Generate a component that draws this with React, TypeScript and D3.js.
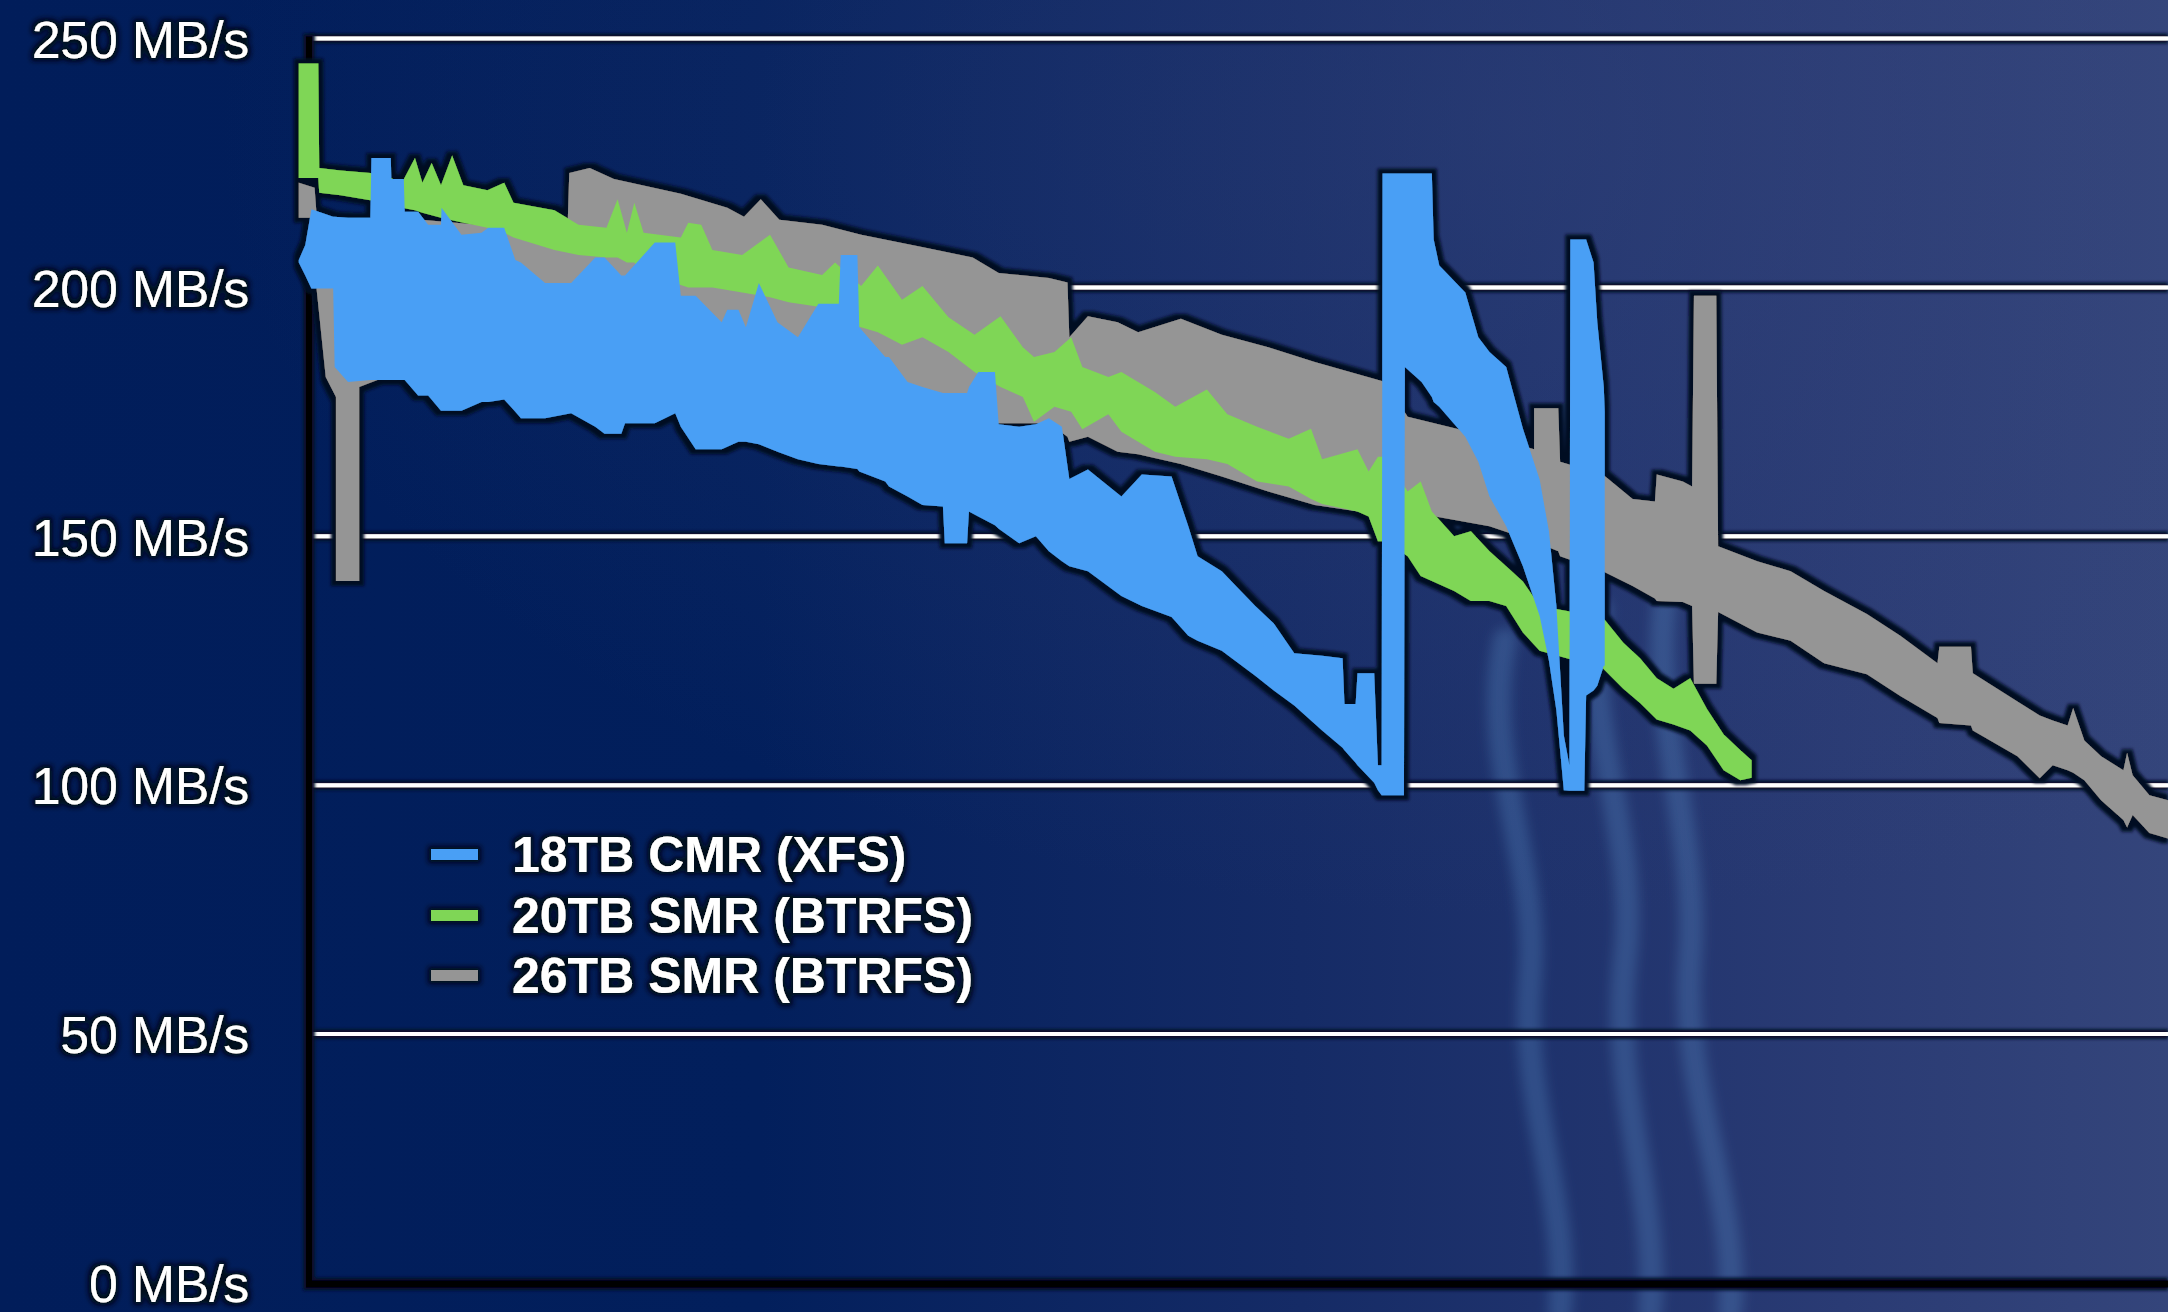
import React from 'react';
import * as d3 from 'd3';

const W = 2168;
const H = 1312;

const yTicks = [0, 50, 100, 150, 200, 250];
const tickLabel = (v: number) => `${v} MB/s`;

const seriesNames = ['18TB CMR (XFS)', '20TB SMR (BTRFS)', '26TB SMR (BTRFS)'];
const seriesColors = ['#4a9ff5', '#7fd656', '#959595'];

// x = position along the run (percent of the visible timeline)
const greyT = [-0.55, 0.3, 0.4, 0.9, 1.45, 1.45, 2.7, 2.7, 4.8, 11.0, 11.1, 13.9, 14.0, 15.1, 16.4, 20.0, 22.5, 23.4, 24.3, 25.3, 27.6, 29.7, 33.1, 35.7, 37.1, 39.8, 40.8, 40.9, 41.9, 43.5, 44.6, 46.9, 49.1, 51.6, 54.1, 57.9, 59.1, 63.5, 65.9, 65.9, 67.2, 67.3, 69.6, 71.2, 72.4, 72.5, 73.9, 74.4, 74.5, 75.7, 75.8, 77.9, 79.7, 81.5, 83.8, 85.6, 87.6, 87.7, 89.4, 89.5, 91.9, 93.1, 93.8, 94.6, 94.9, 95.5, 96.4, 97.6, 97.8, 98.1, 99.0, 100];
const greyHi = [221, 220, 215, 214, 213, 213, 213, 213, 214, 212, 211, 211, 223, 224, 221.8, 218.8, 216, 214.2, 217.7, 213.6, 212.6, 210.6, 208, 206, 202.9, 201.9, 201, 190, 194.2, 193, 191, 193.7, 190.5, 188, 185, 181, 174, 170, 167.5, 175.7, 175.7, 165, 162.4, 157.5, 157, 162.4, 161, 160, 198.3, 198.3, 148, 145, 143, 139, 134.4, 130, 124.5, 127.8, 127.8, 122.5, 116.8, 114, 113, 112, 115.5, 109, 105.8, 103, 106.5, 102, 98, 97];
const greyLo = [214, 214, 200, 182, 178, 141, 141, 180, 183, 197, 198, 199, 199, 199, 199, 196, 190, 188, 187, 186, 184, 182, 178, 175, 172.7, 172.7, 170, 169, 170, 167, 166.5, 164.5, 162, 159, 156.3, 154.2, 155, 152, 149, 149, 147, 146, 143, 140, 137.5, 137, 136.8, 136, 120.4, 120.4, 134.8, 130.7, 129, 124.5, 122.3, 117.9, 113.5, 112.5, 112, 111, 105.8, 101.4, 104, 103, 102.5, 101, 97, 93, 91.5, 94, 90.4, 89.3];

const greenT = [-0.55, 0.5, 0.55, 1.7, 3.3, 4.4, 5.0, 5.7, 6.1, 6.6, 7.1, 7.7, 8.3, 9.6, 10.5, 11.0, 13.2, 14.5, 16.0, 16.6, 17.1, 17.5, 18.0, 20.0, 20.4, 21.1, 21.7, 23.3, 24.8, 25.8, 27.6, 28.3, 29.7, 30.6, 31.9, 33.0, 34.4, 35.8, 37.2, 38.4, 39.0, 40.1, 41.0, 41.6, 43.0, 43.7, 45.5, 46.6, 48.3, 49.4, 51.0, 52.7, 53.9, 54.5, 56.4, 57.0, 57.5, 57.9, 59.1, 59.8, 60.4, 61.6, 62.5, 63.5, 64.4, 65.3, 66.2, 69.6, 70.7, 71.6, 72.5, 73.4, 74.3, 75.2, 76.1, 77.0, 77.6];
const greenHi = [245, 245, 224, 223.5, 223, 222, 221, 226, 221, 225, 220.5, 226.5, 220.5, 219.5, 221, 217, 215.5, 212.6, 212, 217.7, 211, 217, 211, 210, 213, 212.6, 207.5, 206.5, 210.6, 204, 202.5, 205, 200.3, 204.4, 197.5, 200.3, 194, 190.5, 194.2, 188, 186, 187, 190, 184, 182, 183, 179, 176, 179.5, 174.5, 172, 169.6, 171.6, 165.5, 167.5, 163, 166, 166, 159, 161, 155, 150, 151, 147, 144, 140.9, 136, 133.7, 128.6, 125.5, 121.5, 119.4, 121.5, 115.3, 110.2, 107, 105];
const greenLo = [222, 222, 219, 218.5, 217.5, 216, 216, 215.5, 215, 214.5, 214, 213.5, 213, 212, 211, 210, 207.5, 206.5, 206, 206, 205, 205, 203, 200.5, 200, 200, 200, 199, 198, 197, 196, 193, 192, 191, 188.5, 190, 187, 183, 180, 178, 173, 176, 175, 171.5, 174.5, 171, 167, 166, 165.5, 164.5, 161, 160, 157.5, 156.5, 155, 154, 149, 149, 146, 142, 141, 139, 137, 137, 136, 130.7, 127, 123.5, 119.4, 116.5, 113.2, 112.2, 111, 108, 103, 101, 101.5];

const blueT = [-0.55, -0.2, 0.13, 1.3, 1.38, 2.1, 3.3, 3.36, 4.4, 4.43, 5.1, 5.15, 5.87, 6.41, 7.1, 7.13, 8.2, 9.28, 9.64, 10.5, 11.1, 11.4, 12.7, 14.1, 15.4, 15.9, 16.8, 17.0, 18.6, 19.7, 20.0, 20.8, 22.2, 22.5, 23.1, 23.5, 24.2, 25.2, 26.3, 27.4, 28.5, 28.6, 29.5, 29.6, 31.0, 31.2, 32.2, 33.0, 34.1, 34.2, 35.4, 35.5, 36.0, 36.9, 37.1, 38.2, 39.1, 39.8, 40.5, 40.9, 41.9, 43.7, 44.8, 46.4, 47.3, 47.8, 49.1, 50.9, 51.9, 53.0, 54.5, 55.6, 55.7, 56.3, 56.4, 57.3, 57.5, 57.7, 57.75, 58.9, 58.95, 59.85, 60.4, 60.5, 60.8, 62.2, 62.9, 63.5, 64.4, 65.3, 66.2, 66.7, 67.1, 67.5, 67.8, 67.85, 68.6, 68.7, 69.1, 69.3, 69.65, 69.7];
const blueHi = [205.5, 208.5, 215.7, 214.2, 214.2, 214, 214, 226, 226, 221.8, 221.8, 215.2, 215.2, 212.6, 212.6, 216, 210.6, 211, 212, 212, 205.5, 205, 200.9, 200.9, 206, 206, 202.4, 202.4, 209, 209, 198.3, 198.3, 193, 195.5, 195.5, 192, 200.9, 193, 190, 196.7, 196.7, 206.5, 206.5, 192, 186, 186, 181, 180, 178.8, 178.8, 178.8, 180, 183, 183, 172.5, 172, 172.5, 173.7, 172, 161.5, 163.4, 158, 162.4, 162, 152, 146, 143, 136, 132.5, 126.5, 126, 125.5, 116.3, 116.3, 122.5, 122.5, 104, 104, 222.9, 222.9, 222.9, 222.9, 222.9, 209.6, 204.4, 199, 190, 187, 184, 171.6, 161.4, 151, 136, 110, 104, 209.6, 209.6, 209.6, 205, 193, 180, 175];
const blueLo = [205, 202.4, 199.8, 199.8, 184, 181, 181.4, 181.4, 181.4, 181.4, 181.4, 181.4, 178.3, 178.3, 175.2, 175.2, 175.2, 177, 177, 177.5, 175, 173.7, 173.7, 174.7, 172, 170.6, 170.6, 172.7, 172.7, 174.7, 172, 167.5, 167.5, 168, 169, 169, 168.5, 167, 165.5, 164.5, 164, 164, 163.5, 163, 161, 160, 158, 156.3, 156, 148.6, 148.6, 155, 154, 152.2, 151.5, 148.6, 150, 147, 145, 144, 143, 138, 136, 133.8, 130, 129, 127, 122, 119, 116, 111, 107.5, 107, 104.5, 104, 100.5, 99, 98, 98, 98, 184, 181, 178, 177, 176, 170, 165, 158, 152, 144, 134, 125, 115, 99, 98.9, 98.9, 98.9, 118, 119, 120, 124, 124];

const seriesData = [
  { t: greyT, hi: greyHi, lo: greyLo, idx: 2 },
  { t: greenT, hi: greenHi, lo: greenLo, idx: 1 },
  { t: blueT, hi: blueHi, lo: blueLo, idx: 0 },
];

const FONT = '"Liberation Sans", Arial, Helvetica, sans-serif';

export default function App() {
  const x = d3.scaleLinear().domain([0, 100]).range([309, 2168]);
  const y = d3.scaleLinear().domain([0, 250]).range([1283, 38.5]);

  const areas = seriesData.map((s) => {
    const gen = d3
      .area<number>()
      .x((i) => x(s.t[i]))
      .y0((i) => y(s.lo[i]))
      .y1((i) => y(s.hi[i]))
      .curve(d3.curveLinear);
    return { d: gen(d3.range(s.t.length)) || '', color: seriesColors[s.idx] };
  });

  const legendY = [854.5, 915.5, 975.5];

  return (
    <div style={{ position: 'fixed', left: 0, top: 0, width: W, height: H, overflow: 'hidden' }}>
      <svg width={W} height={H} style={{ display: 'block' }}>
        <defs>
          <linearGradient id="bg" x1="0" y1="0" x2="1" y2="0">
            <stop offset="0" stopColor="#011d5a" />
            <stop offset="0.35" stopColor="#021f5c" />
            <stop offset="0.6" stopColor="#152b66" />
            <stop offset="0.85" stopColor="#2a3b74" />
            <stop offset="1" stopColor="#34457b" />
          </linearGradient>
          <radialGradient id="bgglow" cx="0.7" cy="0.1" r="0.6">
            <stop offset="0" stopColor="#3a4a80" stopOpacity="0.35" />
            <stop offset="1" stopColor="#3a4a80" stopOpacity="0" />
          </radialGradient>
          <filter id="outline" filterUnits="userSpaceOnUse" x="0" y="0" width={W} height={H}>
            <feMorphology in="SourceAlpha" operator="dilate" radius="5" result="d" />
            <feGaussianBlur in="d" stdDeviation="1.8" result="b" />
            <feFlood floodColor="#060e24" result="f" />
            <feComposite in="f" in2="b" operator="in" result="s" />
            <feMerge>
              <feMergeNode in="s" />
              <feMergeNode in="SourceGraphic" />
            </feMerge>
          </filter>
          <filter id="lineOutline" filterUnits="userSpaceOnUse" x="0" y="0" width={W} height={H}>
            <feMorphology in="SourceAlpha" operator="dilate" radius="3" result="d" />
            <feGaussianBlur in="d" stdDeviation="1.5" result="b" />
            <feFlood floodColor="#08112a" result="f" />
            <feComposite in="f" in2="b" operator="in" result="s" />
            <feMerge>
              <feMergeNode in="s" />
              <feMergeNode in="SourceGraphic" />
            </feMerge>
          </filter>
          <filter id="textGlow" filterUnits="userSpaceOnUse" x="0" y="0" width={W} height={H}>
            <feMorphology in="SourceAlpha" operator="dilate" radius="3" result="d" />
            <feGaussianBlur in="d" stdDeviation="2.5" result="b" />
            <feFlood floodColor="#040a1a" result="f" />
            <feComposite in="f" in2="b" operator="in" result="s" />
            <feMerge>
              <feMergeNode in="s" />
              <feMergeNode in="SourceGraphic" />
            </feMerge>
          </filter>
          <filter id="soft" x="-50%" y="-50%" width="200%" height="200%">
            <feGaussianBlur stdDeviation="6" />
          </filter>
        </defs>

        <rect x={0} y={0} width={W} height={H} fill="url(#bg)" />
        <rect x={0} y={0} width={W} height={H} fill="url(#bgglow)" />

        {/* faint decorative strands in the background */}
        <g filter="url(#soft)" fill="none" stroke="#6aa8e0" strokeOpacity="0.24" strokeWidth="24" strokeLinecap="round">
          <path d="M1505,640 C1480,760 1540,860 1530,980 C1520,1100 1570,1200 1560,1312" />
          <path d="M1600,610 C1580,720 1640,840 1625,960 C1610,1090 1660,1200 1650,1312" />
          <path d="M1665,600 C1650,720 1700,840 1690,960 C1680,1090 1740,1200 1730,1312" />
        </g>

        {/* gridlines */}
        <g filter="url(#lineOutline)">
          {yTicks.filter((v) => v > 0).map((v) => (
            <line key={v} x1={312} x2={W} y1={y(v)} y2={y(v)} stroke="#ffffff" strokeWidth={4} />
          ))}
        </g>

        {/* axes */}
        <g filter="url(#lineOutline)">
          <line x1={309} x2={309} y1={y(250) - 2} y2={y(0) + 4} stroke="#000000" strokeWidth={6} />
          <line x1={306} x2={W} y1={y(0) + 1} y2={y(0) + 1} stroke="#000000" strokeWidth={7} />
        </g>

        {/* series */}
        <g filter="url(#outline)">
          {areas.map((a, i) => (
            <path key={i} d={a.d} fill={a.color} />
          ))}
        </g>

        {/* y tick labels */}
        <g filter="url(#textGlow)" fontFamily={FONT} fontSize={52} fill="#ffffff" textAnchor="end">
          {yTicks.map((v) => (
            <text key={v} x={249} y={y(v) + 1} dy="0.35em" letterSpacing={-0.3}>
              {tickLabel(v)}
            </text>
          ))}
        </g>

        {/* legend */}
        <g filter="url(#textGlow)" fontFamily={FONT} fontSize={50} fontWeight="bold" fill="#ffffff">
          {seriesNames.map((name, i) => (
            <g key={name}>
              <rect x={431} y={legendY[i] - 5.5} width={47} height={11} fill={seriesColors[i]} />
              <text x={512} y={legendY[i]} dy="0.35em" letterSpacing={0}>
                {name}
              </text>
            </g>
          ))}
        </g>
      </svg>
    </div>
  );
}
